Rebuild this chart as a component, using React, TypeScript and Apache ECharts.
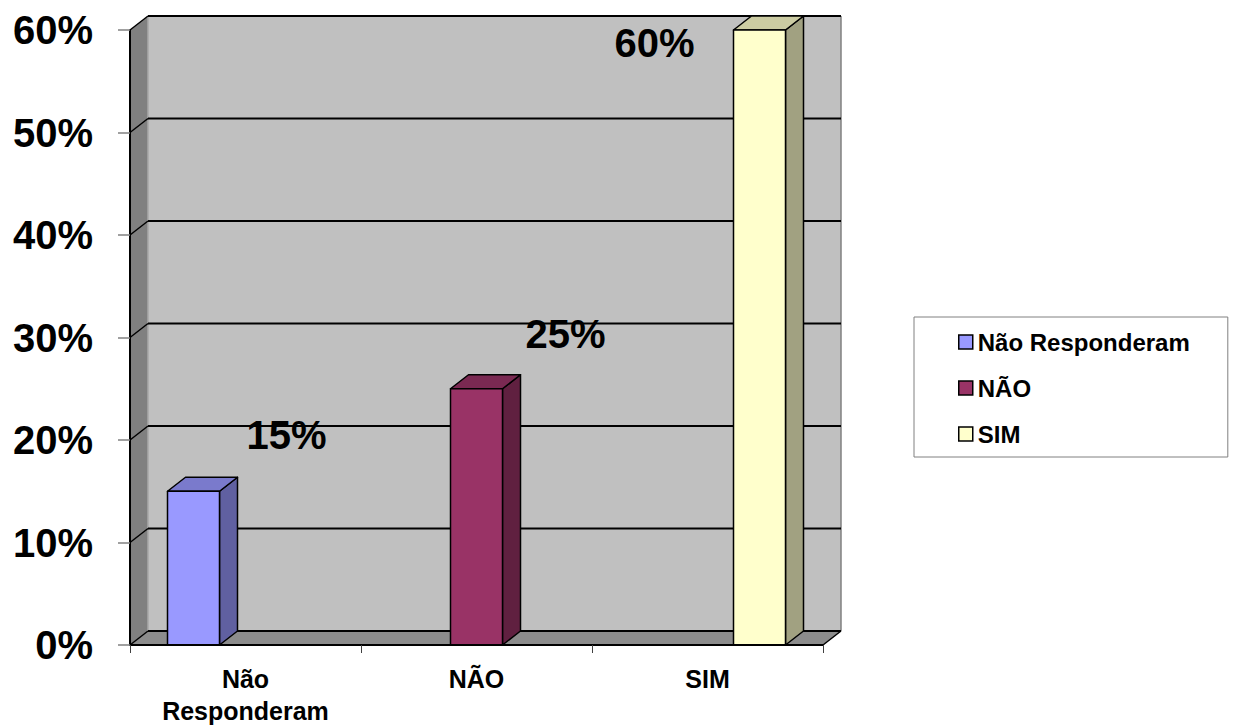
import React, { useEffect, useRef } from 'react';
import * as echarts from 'echarts';

const categories = ['Não\nResponderam', 'NÃO', 'SIM'];
const seriesNames = ['Não Responderam', 'NÃO', 'SIM'];
const values = [15, 25, 60];
const yTicks = [0, 10, 20, 30, 40, 50, 60];
const colors = ['#9999ff', '#993366', '#ffffcc'];

const FONT = '"Liberation Sans", Arial, sans-serif';
const DX = 18;
const DY = -14;
const BAR_W = 52;
const LABEL_OFFSETS = [
  [93, -56],
  [89, -55],
  [-105, 13],
];

function shade(hex: string, f: number): string {
  const n = parseInt(hex.slice(1), 16);
  const r = Math.round(((n >> 16) & 255) * f);
  const g = Math.round(((n >> 8) & 255) * f);
  const b = Math.round((n & 255) * f);
  return 'rgb(' + r + ',' + g + ',' + b + ')';
}

export default function App() {
  const ref = useRef<HTMLDivElement>(null);
  useEffect(() => {
    if (!ref.current) return;
    const chart = echarts.init(ref.current, undefined, { renderer: 'svg' });

    const wallSeries: any = {
      type: 'custom',
      name: 'walls',
      silent: true,
      z: 1,
      data: [[0, 0]],
      renderItem: (params: any, api: any) => {
        const cs = params.coordSys;
        const x0 = cs.x;
        const x1 = cs.x + cs.width;
        const yTop = cs.y;
        const yBot = cs.y + cs.height;
        const children: any[] = [];
        // back wall
        children.push({
          type: 'rect',
          shape: { x: x0 + DX, y: yTop + DY, width: cs.width, height: cs.height },
          style: { fill: '#c0c0c0', stroke: null },
        });
        // left side wall
        children.push({
          type: 'polygon',
          shape: { points: [[x0, yTop], [x0 + DX, yTop + DY], [x0 + DX, yBot + DY], [x0, yBot]] },
          style: { fill: '#808080', stroke: null },
        });
        // floor
        children.push({
          type: 'polygon',
          shape: { points: [[x0, yBot], [x1, yBot], [x1 + DX, yBot + DY], [x0 + DX, yBot + DY]] },
          style: { fill: '#8c8c8c', stroke: null },
        });
        // wall corner line
        children.push({
          type: 'line',
          shape: { x1: x0 + DX, y1: yTop + DY, x2: x0 + DX, y2: yBot + DY },
          style: { stroke: '#a8a8a8', lineWidth: 1.5 },
        });
        // back wall right edge
        children.push({
          type: 'line',
          shape: { x1: x1 + DX, y1: yTop + DY, x2: x1 + DX, y2: yBot + DY },
          style: { stroke: '#808080', lineWidth: 1.5 },
        });
        // gridlines
        yTicks.forEach((t) => {
          const y = api.coord([0, t])[1];
          children.push({
            type: 'line',
            shape: { x1: x0 + DX, y1: y + DY, x2: x1 + DX, y2: y + DY },
            style: { stroke: '#000', lineWidth: 2 },
          });
          children.push({
            type: 'line',
            shape: { x1: x0, y1: y, x2: x0 + DX, y2: y + DY },
            style: { stroke: '#000', lineWidth: 1.5 },
          });
        });
        // floor right diagonal
        children.push({
          type: 'line',
          shape: { x1: x1, y1: yBot, x2: x1 + DX, y2: yBot + DY },
          style: { stroke: '#000', lineWidth: 1.5 },
        });
        return { type: 'group', children };
      },
    };

    const barSeries = seriesNames.map((name, i) => ({
      type: 'custom',
      name,
      z: 3,
      itemStyle: { color: colors[i] },
      data: [[i, values[i]]],
      encode: { x: 0, y: 1 },
      renderItem: (params: any, api: any) => {
        const cat = api.value(0);
        const v = api.value(1);
        const top = api.coord([cat, v]);
        const base = api.coord([cat, 0]);
        const cx = top[0] + (i - 1) * BAR_W;
        const xa = cx - BAR_W / 2;
        const xb = cx + BAR_W / 2;
        const yt = top[1];
        const yb = base[1];
        const c = colors[i];
        const st = { stroke: '#000', lineWidth: 1.5, lineJoin: 'round' };
        const off = LABEL_OFFSETS[i];
        return {
          type: 'group',
          children: [
            {
              type: 'polygon',
              shape: { points: [[xb, yt], [xb + DX, yt + DY], [xb + DX, yb + DY], [xb, yb]] },
              style: { ...st, fill: shade(c, 0.63) },
            },
            {
              type: 'polygon',
              shape: { points: [[xa, yt], [xa + DX, yt + DY], [xb + DX, yt + DY], [xb, yt]] },
              style: { ...st, fill: shade(c, 0.8) },
            },
            {
              type: 'rect',
              shape: { x: xa, y: yt, width: BAR_W, height: yb - yt },
              style: { ...st, fill: c },
            },
            {
              type: 'text',
              x: cx + off[0],
              y: yt + off[1],
              z2: 100,
              style: {
                text: v + '%',
                fontSize: 40,
                fontWeight: 'bold',
                fontFamily: FONT,
                fill: '#000',
                align: 'center',
                verticalAlign: 'middle',
              },
            },
          ],
        };
      },
    }));

    chart.setOption({
      animation: false,
      backgroundColor: '#ffffff',
      grid: { left: 130, top: 30, width: 693, height: 617, containLabel: false },
      legend: {
        data: seriesNames,
        orient: 'vertical',
        left: 914,
        top: 317,
        padding: [13, 38, 11, 44],
        itemGap: 22,
        itemWidth: 14,
        itemHeight: 14,
        icon: 'rect',
        itemStyle: { borderColor: '#000', borderWidth: 1.5 },
        textStyle: { fontSize: 24, fontWeight: 'bold', fontFamily: FONT, color: '#000', lineHeight: 24 },
        backgroundColor: '#ffffff',
        borderColor: '#808080',
        borderWidth: 1,
        borderRadius: 0,
      },
      xAxis: {
        type: 'category',
        data: categories,
        z: 10,
        axisLine: { show: true, lineStyle: { color: '#000', width: 2 } },
        axisTick: { show: true, length: 8, lineStyle: { color: '#404040', width: 1 } },
        axisLabel: {
          margin: 18,
          fontSize: 25,
          fontWeight: 'bold',
          fontFamily: FONT,
          color: '#000',
          lineHeight: 32,
        },
        splitLine: { show: false },
      },
      yAxis: {
        type: 'value',
        min: 0,
        max: 60,
        interval: 10,
        z: 10,
        axisLine: { show: true, lineStyle: { color: '#000', width: 2 } },
        axisTick: { show: true, length: 12, lineStyle: { color: '#808080', width: 1.5 } },
        axisLabel: {
          margin: 37,
          fontSize: 40,
          fontWeight: 'bold',
          fontFamily: FONT,
          color: '#000',
          formatter: '{value}%',
        },
        splitLine: { show: false },
      },
      graphic: [],
      series: [wallSeries, ...barSeries],
    });

    return () => chart.dispose();
  }, []);

  return (
    <div
      ref={ref}
      style={{ position: 'absolute', left: 0, top: 0, width: 1234, height: 727 }}
    />
  );
}
